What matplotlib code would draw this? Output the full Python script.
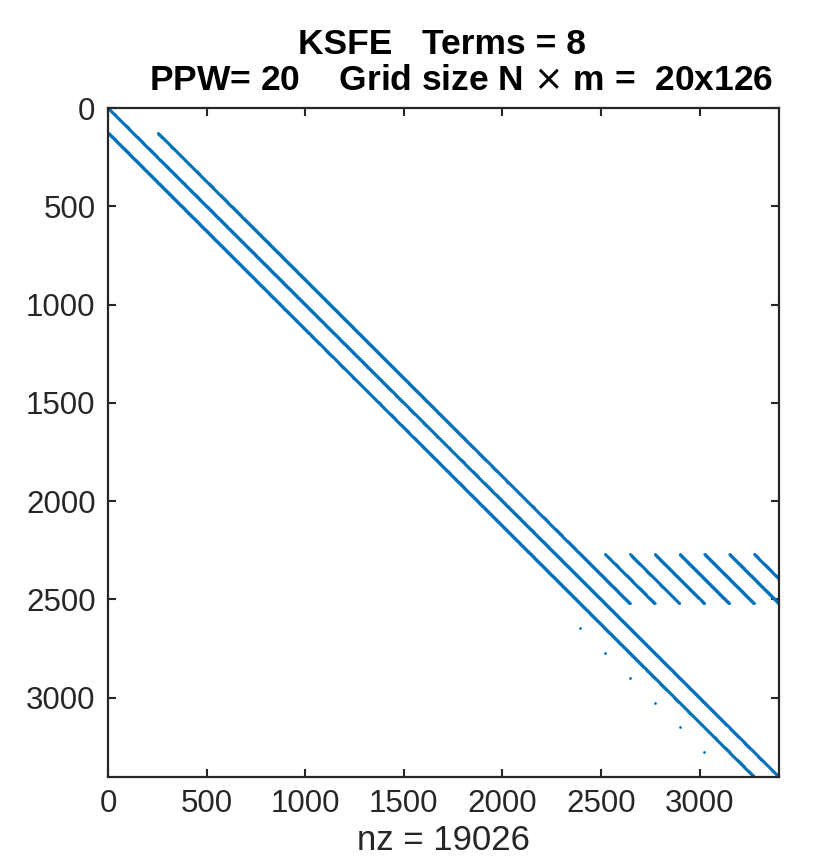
import numpy as np
import matplotlib
matplotlib.use("Agg")
import matplotlib.pyplot as plt

# ---- data (1-based matrix indices, as in MATLAB spy) ----
n_size = 3402
# diagonal segments: start row, start col, length
seg_row_start = [1, 127, 127, 2269, 2269, 2269, 2269, 2269, 2269, 2269]
seg_col_start = [1, 1, 253, 2521, 2647, 2773, 2899, 3025, 3151, 3277]
seg_length = [3402, 3276, 2394, 252, 252, 252, 252, 252, 252, 126]
# isolated entries
dot_rows = [2647, 2773, 2899, 3025, 3151, 3277, 3402]
dot_cols = [2395, 2521, 2647, 2773, 2899, 3025, 3150]
x_ticks = [0, 500, 1000, 1500, 2000, 2500, 3000]
y_ticks = [0, 500, 1000, 1500, 2000, 2500, 3000]
title_line1 = "KSFE   Terms = 8"
title_line2 = r"PPW= 20    Grid size N $\times$ m =  20x126"
xlabel_text = "nz = 19026"

blue = "#0072BD"
dark = "#262626"

plt.rcParams["mathtext.fontset"] = "dejavusans"

fig = plt.figure(figsize=(8.30, 8.68), dpi=100)
ax = fig.add_axes([108/830, 1-777/868, (779-108)/830, (777-108)/868])

rows, cols = [], []
for r0, c0, L in zip(seg_row_start, seg_col_start, seg_length):
    k = np.arange(L)
    rows.append(r0 + k)
    cols.append(c0 + k)
rows = np.concatenate(rows)
cols = np.concatenate(cols)
ax.plot(cols, rows, linestyle="none", marker="o", markersize=1.7,
        markeredgewidth=0, color=blue)
ax.plot(dot_cols, dot_rows, linestyle="none", marker="o", markersize=2.0,
        markeredgewidth=0, color=blue)

ax.set_xlim(0, n_size + 1)
ax.set_ylim(n_size + 1, 0)
ax.set_xticks(x_ticks)
ax.set_yticks(y_ticks)
ax.tick_params(direction="in", length=6, width=1.5, colors=dark,
               labelsize=22.5, top=True, right=True, pad=9)
ax.tick_params(axis="x", pad=9)
for lab in ax.get_xticklabels() + ax.get_yticklabels():
    lab.set_fontfamily(["Liberation Sans", "DejaVu Sans"])
for sp in ax.spines.values():
    sp.set_linewidth(1.6)
    sp.set_color(dark)

ax.set_xlabel(xlabel_text, fontsize=25, color=dark,
              family=["Liberation Sans", "DejaVu Sans"], labelpad=3)

tfam = ["Liberation Sans", "DejaVu Sans"]
fig.text(442/830, 1-45/868, title_line1, ha="center", va="center",
         fontsize=25.5, fontweight="bold", family=tfam, color="black")
fig.text(461/830, 1-80/868, title_line2, ha="center", va="center",
         fontsize=25.5, fontweight="bold", family=tfam, color="black")

fig.savefig("out.png", dpi=100)
